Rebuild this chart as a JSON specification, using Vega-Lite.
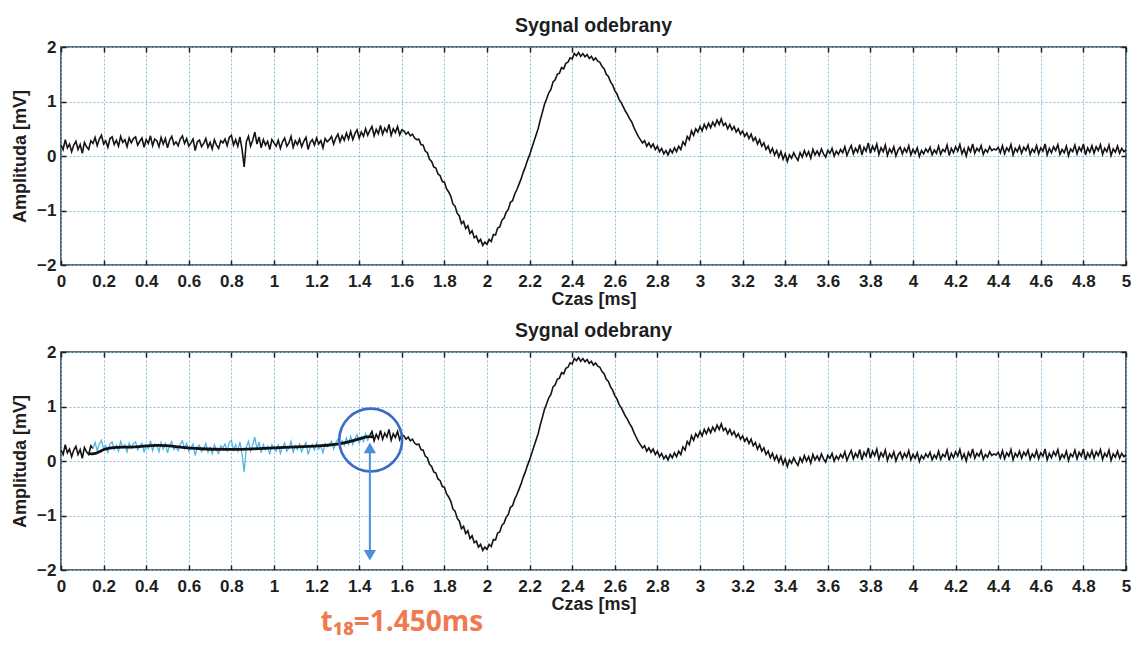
{
  "$schema": "https://vega.github.io/schema/vega-lite/v6.json",
  "background": "white",
  "padding": {"left": 10, "top": 14, "right": 4, "bottom": 4},
  "spacing": 10,
  "datasets": {
    "sig": [
      {"t":0.00,"v":0.20},{"t":0.01,"v":0.12},{"t":0.02,"v":0.30},{"t":0.03,"v":0.15},{"t":0.04,"v":0.22},{"t":0.05,"v":0.08},{"t":0.06,"v":0.20},{"t":0.07,"v":0.27},{"t":0.08,"v":0.12},{"t":0.09,"v":0.21},
      {"t":0.10,"v":0.05},{"t":0.11,"v":0.25},{"t":0.12,"v":0.17},{"t":0.13,"v":0.12},{"t":0.14,"v":0.28},{"t":0.15,"v":0.23},{"t":0.16,"v":0.34},{"t":0.17,"v":0.19},{"t":0.18,"v":0.31},{"t":0.19,"v":0.38},
      {"t":0.20,"v":0.22},{"t":0.21,"v":0.28},{"t":0.22,"v":0.16},{"t":0.23,"v":0.32},{"t":0.24,"v":0.35},{"t":0.25,"v":0.21},{"t":0.26,"v":0.29},{"t":0.27,"v":0.18},{"t":0.28,"v":0.36},{"t":0.29,"v":0.25},
      {"t":0.30,"v":0.30},{"t":0.31,"v":0.17},{"t":0.32,"v":0.33},{"t":0.33,"v":0.24},{"t":0.34,"v":0.32},{"t":0.35,"v":0.35},{"t":0.36,"v":0.20},{"t":0.37,"v":0.27},{"t":0.38,"v":0.33},{"t":0.39,"v":0.16},
      {"t":0.40,"v":0.30},{"t":0.41,"v":0.23},{"t":0.42,"v":0.37},{"t":0.43,"v":0.19},{"t":0.44,"v":0.31},{"t":0.45,"v":0.28},{"t":0.46,"v":0.17},{"t":0.47,"v":0.34},{"t":0.48,"v":0.22},{"t":0.49,"v":0.32},
      {"t":0.50,"v":0.15},{"t":0.51,"v":0.29},{"t":0.52,"v":0.36},{"t":0.53,"v":0.21},{"t":0.54,"v":0.26},{"t":0.55,"v":0.19},{"t":0.56,"v":0.31},{"t":0.57,"v":0.37},{"t":0.58,"v":0.23},{"t":0.59,"v":0.32},
      {"t":0.60,"v":0.18},{"t":0.61,"v":0.24},{"t":0.62,"v":0.31},{"t":0.63,"v":0.10},{"t":0.64,"v":0.26},{"t":0.65,"v":0.29},{"t":0.66,"v":0.17},{"t":0.67,"v":0.23},{"t":0.68,"v":0.32},{"t":0.69,"v":0.16},
      {"t":0.70,"v":0.25},{"t":0.71,"v":0.13},{"t":0.72,"v":0.30},{"t":0.73,"v":0.20},{"t":0.74,"v":0.14},{"t":0.75,"v":0.28},{"t":0.76,"v":0.24},{"t":0.77,"v":0.31},{"t":0.78,"v":0.19},{"t":0.79,"v":0.34},
      {"t":0.80,"v":0.38},{"t":0.81,"v":0.20},{"t":0.82,"v":0.30},{"t":0.83,"v":0.18},{"t":0.84,"v":0.35},{"t":0.85,"v":0.12},{"t":0.86,"v":-0.20},{"t":0.87,"v":0.26},{"t":0.88,"v":0.36},{"t":0.89,"v":0.18},
      {"t":0.90,"v":0.29},{"t":0.91,"v":0.44},{"t":0.92,"v":0.22},{"t":0.93,"v":0.35},{"t":0.94,"v":0.15},{"t":0.95,"v":0.30},{"t":0.96,"v":0.20},{"t":0.97,"v":0.27},{"t":0.98,"v":0.12},{"t":0.99,"v":0.30},
      {"t":1.00,"v":0.24},{"t":1.01,"v":0.18},{"t":1.02,"v":0.29},{"t":1.03,"v":0.14},{"t":1.04,"v":0.26},{"t":1.05,"v":0.33},{"t":1.06,"v":0.18},{"t":1.07,"v":0.24},{"t":1.08,"v":0.36},{"t":1.09,"v":0.16},
      {"t":1.10,"v":0.28},{"t":1.11,"v":0.21},{"t":1.12,"v":0.31},{"t":1.13,"v":0.17},{"t":1.14,"v":0.27},{"t":1.15,"v":0.34},{"t":1.16,"v":0.12},{"t":1.17,"v":0.25},{"t":1.18,"v":0.30},{"t":1.19,"v":0.20},
      {"t":1.20,"v":0.33},{"t":1.21,"v":0.22},{"t":1.22,"v":0.28},{"t":1.23,"v":0.15},{"t":1.24,"v":0.32},{"t":1.25,"v":0.26},{"t":1.26,"v":0.30},{"t":1.27,"v":0.36},{"t":1.28,"v":0.22},{"t":1.29,"v":0.33},
      {"t":1.30,"v":0.40},{"t":1.31,"v":0.26},{"t":1.32,"v":0.37},{"t":1.33,"v":0.29},{"t":1.34,"v":0.42},{"t":1.35,"v":0.31},{"t":1.36,"v":0.45},{"t":1.37,"v":0.30},{"t":1.38,"v":0.41},{"t":1.39,"v":0.48},
      {"t":1.40,"v":0.33},{"t":1.41,"v":0.44},{"t":1.42,"v":0.36},{"t":1.43,"v":0.50},{"t":1.44,"v":0.38},{"t":1.45,"v":0.47},{"t":1.46,"v":0.54},{"t":1.47,"v":0.37},{"t":1.48,"v":0.49},{"t":1.49,"v":0.41},
      {"t":1.50,"v":0.56},{"t":1.51,"v":0.40},{"t":1.52,"v":0.51},{"t":1.53,"v":0.44},{"t":1.54,"v":0.58},{"t":1.55,"v":0.38},{"t":1.56,"v":0.50},{"t":1.57,"v":0.43},{"t":1.58,"v":0.54},{"t":1.59,"v":0.39},
      {"t":1.60,"v":0.48},{"t":1.61,"v":0.46},{"t":1.62,"v":0.40},{"t":1.63,"v":0.44},{"t":1.64,"v":0.37},{"t":1.65,"v":0.40},{"t":1.66,"v":0.33},{"t":1.67,"v":0.30},{"t":1.68,"v":0.31},{"t":1.69,"v":0.21},
      {"t":1.70,"v":0.20},{"t":1.71,"v":0.09},{"t":1.72,"v":0.06},{"t":1.73,"v":-0.06},{"t":1.74,"v":-0.10},{"t":1.75,"v":-0.20},{"t":1.76,"v":-0.22},{"t":1.77,"v":-0.33},{"t":1.78,"v":-0.36},{"t":1.79,"v":-0.47},
      {"t":1.80,"v":-0.48},{"t":1.81,"v":-0.60},{"t":1.82,"v":-0.66},{"t":1.83,"v":-0.74},{"t":1.84,"v":-0.88},{"t":1.85,"v":-0.92},{"t":1.86,"v":-1.05},{"t":1.87,"v":-1.10},{"t":1.88,"v":-1.24},{"t":1.89,"v":-1.20},
      {"t":1.90,"v":-1.33},{"t":1.91,"v":-1.28},{"t":1.92,"v":-1.42},{"t":1.93,"v":-1.37},{"t":1.94,"v":-1.50},{"t":1.95,"v":-1.47},{"t":1.96,"v":-1.58},{"t":1.97,"v":-1.53},{"t":1.98,"v":-1.64},{"t":1.99,"v":-1.58},
      {"t":2.00,"v":-1.62},{"t":2.01,"v":-1.53},{"t":2.02,"v":-1.57},{"t":2.03,"v":-1.44},{"t":2.04,"v":-1.45},{"t":2.05,"v":-1.32},{"t":2.06,"v":-1.30},{"t":2.07,"v":-1.18},{"t":2.08,"v":-1.14},{"t":2.09,"v":-1.03},
      {"t":2.10,"v":-0.98},{"t":2.11,"v":-0.85},{"t":2.12,"v":-0.82},{"t":2.13,"v":-0.70},{"t":2.14,"v":-0.62},{"t":2.15,"v":-0.52},{"t":2.16,"v":-0.42},{"t":2.17,"v":-0.30},{"t":2.18,"v":-0.20},{"t":2.19,"v":-0.08},
      {"t":2.20,"v":0.02},{"t":2.21,"v":0.14},{"t":2.22,"v":0.26},{"t":2.23,"v":0.38},{"t":2.24,"v":0.50},{"t":2.25,"v":0.66},{"t":2.26,"v":0.80},{"t":2.27,"v":0.95},{"t":2.28,"v":1.05},{"t":2.29,"v":1.16},
      {"t":2.30,"v":1.22},{"t":2.31,"v":1.36},{"t":2.32,"v":1.40},{"t":2.33,"v":1.50},{"t":2.34,"v":1.52},{"t":2.35,"v":1.62},{"t":2.36,"v":1.60},{"t":2.37,"v":1.70},{"t":2.38,"v":1.72},{"t":2.39,"v":1.80},
      {"t":2.40,"v":1.78},{"t":2.41,"v":1.88},{"t":2.42,"v":1.84},{"t":2.43,"v":1.90},{"t":2.44,"v":1.83},{"t":2.45,"v":1.88},{"t":2.46,"v":1.82},{"t":2.47,"v":1.86},{"t":2.48,"v":1.79},{"t":2.49,"v":1.83},
      {"t":2.50,"v":1.76},{"t":2.51,"v":1.80},{"t":2.52,"v":1.74},{"t":2.53,"v":1.72},{"t":2.54,"v":1.64},{"t":2.55,"v":1.60},{"t":2.56,"v":1.50},{"t":2.57,"v":1.46},{"t":2.58,"v":1.36},{"t":2.59,"v":1.30},
      {"t":2.60,"v":1.20},{"t":2.61,"v":1.14},{"t":2.62,"v":1.04},{"t":2.63,"v":0.98},{"t":2.64,"v":0.90},{"t":2.65,"v":0.82},{"t":2.66,"v":0.76},{"t":2.67,"v":0.68},{"t":2.68,"v":0.62},{"t":2.69,"v":0.52},
      {"t":2.70,"v":0.44},{"t":2.71,"v":0.36},{"t":2.72,"v":0.30},{"t":2.73,"v":0.24},{"t":2.74,"v":0.28},{"t":2.75,"v":0.18},{"t":2.76,"v":0.24},{"t":2.77,"v":0.16},{"t":2.78,"v":0.22},{"t":2.79,"v":0.12},
      {"t":2.80,"v":0.18},{"t":2.81,"v":0.08},{"t":2.82,"v":0.14},{"t":2.83,"v":0.04},{"t":2.84,"v":0.10},{"t":2.85,"v":0.02},{"t":2.86,"v":0.12},{"t":2.87,"v":0.06},{"t":2.88,"v":0.15},{"t":2.89,"v":0.08},
      {"t":2.90,"v":0.18},{"t":2.91,"v":0.12},{"t":2.92,"v":0.26},{"t":2.93,"v":0.20},{"t":2.94,"v":0.36},{"t":2.95,"v":0.30},{"t":2.96,"v":0.46},{"t":2.97,"v":0.38},{"t":2.98,"v":0.50},{"t":2.99,"v":0.44},
      {"t":3.00,"v":0.54},{"t":3.01,"v":0.46},{"t":3.02,"v":0.58},{"t":3.03,"v":0.50},{"t":3.04,"v":0.60},{"t":3.05,"v":0.52},{"t":3.06,"v":0.62},{"t":3.07,"v":0.55},{"t":3.08,"v":0.66},{"t":3.09,"v":0.58},
      {"t":3.10,"v":0.68},{"t":3.11,"v":0.56},{"t":3.12,"v":0.60},{"t":3.13,"v":0.50},{"t":3.14,"v":0.58},{"t":3.15,"v":0.48},{"t":3.16,"v":0.54},{"t":3.17,"v":0.44},{"t":3.18,"v":0.50},{"t":3.19,"v":0.40},
      {"t":3.20,"v":0.46},{"t":3.21,"v":0.36},{"t":3.22,"v":0.42},{"t":3.23,"v":0.32},{"t":3.24,"v":0.40},{"t":3.25,"v":0.28},{"t":3.26,"v":0.34},{"t":3.27,"v":0.22},{"t":3.28,"v":0.30},{"t":3.29,"v":0.18},
      {"t":3.30,"v":0.24},{"t":3.31,"v":0.12},{"t":3.32,"v":0.18},{"t":3.33,"v":0.06},{"t":3.34,"v":0.14},{"t":3.35,"v":0.02},{"t":3.36,"v":0.10},{"t":3.37,"v":-0.02},{"t":3.38,"v":0.08},{"t":3.39,"v":-0.06},
      {"t":3.40,"v":0.04},{"t":3.41,"v":-0.10},{"t":3.42,"v":0.02},{"t":3.43,"v":-0.04},{"t":3.44,"v":0.06},{"t":3.45,"v":-0.02},{"t":3.46,"v":-0.08},{"t":3.47,"v":0.06},{"t":3.48,"v":-0.02},{"t":3.49,"v":0.10},
      {"t":3.50,"v":0.00},{"t":3.51,"v":0.08},{"t":3.52,"v":-0.04},{"t":3.53,"v":0.12},{"t":3.54,"v":0.02},{"t":3.55,"v":0.09},{"t":3.56,"v":0.01},{"t":3.57,"v":0.13},{"t":3.58,"v":0.04},{"t":3.59,"v":-0.02},
      {"t":3.60,"v":0.10},{"t":3.61,"v":0.05},{"t":3.62,"v":0.14},{"t":3.63,"v":0.00},{"t":3.64,"v":0.09},{"t":3.65,"v":0.03},{"t":3.66,"v":0.12},{"t":3.67,"v":0.06},{"t":3.68,"v":0.17},{"t":3.69,"v":0.01},
      {"t":3.70,"v":0.11},{"t":3.71,"v":0.19},{"t":3.72,"v":0.04},{"t":3.73,"v":0.14},{"t":3.74,"v":0.07},{"t":3.75,"v":0.21},{"t":3.76,"v":0.02},{"t":3.77,"v":0.16},{"t":3.78,"v":0.09},{"t":3.79,"v":0.24},
      {"t":3.80,"v":0.05},{"t":3.81,"v":0.18},{"t":3.82,"v":0.10},{"t":3.83,"v":0.22},{"t":3.84,"v":0.03},{"t":3.85,"v":0.15},{"t":3.86,"v":0.08},{"t":3.87,"v":0.20},{"t":3.88,"v":0.01},{"t":3.89,"v":0.13},
      {"t":3.90,"v":0.06},{"t":3.91,"v":0.17},{"t":3.92,"v":0.00},{"t":3.93,"v":0.11},{"t":3.94,"v":0.16},{"t":3.95,"v":0.04},{"t":3.96,"v":0.14},{"t":3.97,"v":0.07},{"t":3.98,"v":0.19},{"t":3.99,"v":0.02},
      {"t":4.00,"v":0.12},{"t":4.01,"v":0.05},{"t":4.02,"v":0.15},{"t":4.03,"v":-0.01},{"t":4.04,"v":0.10},{"t":4.05,"v":0.04},{"t":4.06,"v":0.13},{"t":4.07,"v":0.07},{"t":4.08,"v":0.16},{"t":4.09,"v":0.02},
      {"t":4.10,"v":0.11},{"t":4.11,"v":0.05},{"t":4.12,"v":0.18},{"t":4.13,"v":0.03},{"t":4.14,"v":0.12},{"t":4.15,"v":0.08},{"t":4.16,"v":0.20},{"t":4.17,"v":0.01},{"t":4.18,"v":0.14},{"t":4.19,"v":0.06},
      {"t":4.20,"v":0.17},{"t":4.21,"v":0.09},{"t":4.22,"v":0.21},{"t":4.23,"v":0.04},{"t":4.24,"v":0.13},{"t":4.25,"v":0.00},{"t":4.26,"v":0.16},{"t":4.27,"v":0.08},{"t":4.28,"v":0.22},{"t":4.29,"v":0.05},
      {"t":4.30,"v":0.14},{"t":4.31,"v":0.09},{"t":4.32,"v":0.19},{"t":4.33,"v":0.03},{"t":4.34,"v":0.12},{"t":4.35,"v":0.07},{"t":4.36,"v":0.17},{"t":4.37,"v":0.10},{"t":4.38,"v":0.13},{"t":4.39,"v":0.11},
      {"t":4.40,"v":0.16},{"t":4.41,"v":0.06},{"t":4.42,"v":0.19},{"t":4.43,"v":0.04},{"t":4.44,"v":0.15},{"t":4.45,"v":0.09},{"t":4.46,"v":0.21},{"t":4.47,"v":0.02},{"t":4.48,"v":0.14},{"t":4.49,"v":0.08},
      {"t":4.50,"v":0.18},{"t":4.51,"v":0.05},{"t":4.52,"v":0.16},{"t":4.53,"v":0.10},{"t":4.54,"v":0.20},{"t":4.55,"v":0.03},{"t":4.56,"v":0.13},{"t":4.57,"v":0.07},{"t":4.58,"v":0.19},{"t":4.59,"v":0.04},
      {"t":4.60,"v":0.15},{"t":4.61,"v":0.09},{"t":4.62,"v":0.22},{"t":4.63,"v":0.02},{"t":4.64,"v":0.14},{"t":4.65,"v":0.06},{"t":4.66,"v":0.17},{"t":4.67,"v":0.10},{"t":4.68,"v":0.21},{"t":4.69,"v":0.03},
      {"t":4.70,"v":0.12},{"t":4.71,"v":0.06},{"t":4.72,"v":0.18},{"t":4.73,"v":0.01},{"t":4.74,"v":0.13},{"t":4.75,"v":0.08},{"t":4.76,"v":0.20},{"t":4.77,"v":0.04},{"t":4.78,"v":0.16},{"t":4.79,"v":0.09},
      {"t":4.80,"v":0.22},{"t":4.81,"v":0.02},{"t":4.82,"v":0.15},{"t":4.83,"v":0.07},{"t":4.84,"v":0.19},{"t":4.85,"v":0.05},{"t":4.86,"v":0.17},{"t":4.87,"v":0.10},{"t":4.88,"v":0.21},{"t":4.89,"v":0.03},
      {"t":4.90,"v":0.14},{"t":4.91,"v":0.08},{"t":4.92,"v":0.20},{"t":4.93,"v":0.01},{"t":4.94,"v":0.13},{"t":4.95,"v":0.07},{"t":4.96,"v":0.18},{"t":4.97,"v":0.05},{"t":4.98,"v":0.14},{"t":4.99,"v":0.08},
      {"t":5.00,"v":0.11}
    ],
    "smooth": [
      {"t":0.13,"v":0.14},{"t":0.16,"v":0.12},{"t":0.2,"v":0.22},{"t":0.25,"v":0.26},{"t":0.35,"v":0.25},{"t":0.45,"v":0.30},{"t":0.55,"v":0.26},{"t":0.65,"v":0.22},{"t":0.78,"v":0.21},{"t":0.9,"v":0.22},{"t":1.05,"v":0.25},{"t":1.2,"v":0.27},{"t":1.3,"v":0.30},{"t":1.38,"v":0.38},{"t":1.44,"v":0.46},{"t":1.47,"v":0.44}
    ]
  },
  "config": {
    "font": "Liberation Sans",
    "view": {"stroke": "#2b3f4a", "strokeWidth": 1.6},
    "axis": {
      "labelFont": "Liberation Sans", "labelFontWeight": "bold", "labelFontSize": 17, "labelColor": "#1e1e1e",
      "titleFont": "Liberation Sans", "titleFontWeight": "bold", "titleColor": "#1e1e1e",
      "gridColor": "#7fbfe0", "gridDash": [2, 2], "gridOpacity": 1, "gridWidth": 1,
      "domain": false, "tickColor": "#1e1e1e", "tickSize": -5, "tickWidth": 1.5
    },
    "title": {"font": "Liberation Sans", "fontSize": 19.5, "fontWeight": "bold", "color": "#1e1e1e", "offset": 2}
  },
  "vconcat": [
    {
      "width": 1065, "height": 218,
      "title": "Sygnal odebrany",
      "resolve": {"axis": {"x": "independent", "y": "independent"}},
      "layer": [
        {
          "data": {"name": "sig"},
          "mark": {"type": "line", "color": "#141414", "strokeWidth": 1.6},
          "encoding": {
            "x": {"field": "t", "type": "quantitative", "scale": {"domain": [0, 5], "nice": false},
                  "axis": {"orient": "bottom", "title": "Czas [ms]", "titleFontSize": 18, "values": [0,0.2,0.4,0.6,0.8,1,1.2,1.4,1.6,1.8,2,2.2,2.4,2.6,2.8,3,3.2,3.4,3.6,3.8,4,4.2,4.4,4.6,4.8,5], "format": "~g", "labelPadding": 13, "titlePadding": 1, "labelFlush": false}},
            "y": {"field": "v", "type": "quantitative", "scale": {"domain": [-2, 2], "nice": false},
                  "axis": {"orient": "left", "title": "Amplituda [mV]", "titleFontSize": 18, "values": [-2,-1,0,1,2], "labelPadding": 10, "titlePadding": 7}}
          }
        },
        {
          "data": {"name": "sig"},
          "mark": {"type": "line", "opacity": 0},
          "encoding": {
            "x": {"field": "t", "type": "quantitative", "axis": {"orient": "top", "labels": false, "title": null, "grid": false, "values": [0,0.2,0.4,0.6,0.8,1,1.2,1.4,1.6,1.8,2,2.2,2.4,2.6,2.8,3,3.2,3.4,3.6,3.8,4,4.2,4.4,4.6,4.8,5]}},
            "y": {"field": "v", "type": "quantitative", "axis": {"orient": "right", "labels": false, "title": null, "grid": false, "values": [-2,-1,0,1,2]}}
          }
        }
      ]
    },
    {
      "width": 1065, "height": 218,
      "title": "Sygnal odebrany",
      "resolve": {"axis": {"x": "independent", "y": "independent"}},
      "layer": [
        {
          "data": {"name": "sig"},
          "transform": [{"filter": "datum.t <= 0.15"}],
          "mark": {"type": "line", "color": "#141414", "strokeWidth": 1.6},
          "encoding": {
            "x": {"field": "t", "type": "quantitative", "scale": {"domain": [0, 5], "nice": false},
                  "axis": {"orient": "bottom", "title": "Czas [ms]", "titleFontSize": 18, "values": [0,0.2,0.4,0.6,0.8,1,1.2,1.4,1.6,1.8,2,2.2,2.4,2.6,2.8,3,3.2,3.4,3.6,3.8,4,4.2,4.4,4.6,4.8,5], "format": "~g", "labelPadding": 13, "titlePadding": 1, "labelFlush": false}},
            "y": {"field": "v", "type": "quantitative", "scale": {"domain": [-2, 2], "nice": false},
                  "axis": {"orient": "left", "title": "Amplituda [mV]", "titleFontSize": 18, "values": [-2,-1,0,1,2], "labelPadding": 10, "titlePadding": 7}}
          }
        },
        {
          "data": {"name": "sig"},
          "mark": {"type": "line", "opacity": 0},
          "encoding": {
            "x": {"field": "t", "type": "quantitative", "axis": {"orient": "top", "labels": false, "title": null, "grid": false, "values": [0,0.2,0.4,0.6,0.8,1,1.2,1.4,1.6,1.8,2,2.2,2.4,2.6,2.8,3,3.2,3.4,3.6,3.8,4,4.2,4.4,4.6,4.8,5]}},
            "y": {"field": "v", "type": "quantitative", "axis": {"orient": "right", "labels": false, "title": null, "grid": false, "values": [-2,-1,0,1,2]}}
          }
        },
        {
          "data": {"name": "sig"},
          "transform": [{"filter": "datum.t >= 0.15 && datum.t <= 1.45"}],
          "mark": {"type": "line", "color": "#52b4e6", "strokeWidth": 1.3},
          "encoding": {
            "x": {"field": "t", "type": "quantitative", "axis": null},
            "y": {"field": "v", "type": "quantitative", "axis": null}
          }
        },
        {
          "data": {"name": "sig"},
          "transform": [{"filter": "datum.t >= 1.45"}],
          "mark": {"type": "line", "color": "#141414", "strokeWidth": 1.6},
          "encoding": {
            "x": {"field": "t", "type": "quantitative", "axis": null},
            "y": {"field": "v", "type": "quantitative", "axis": null}
          }
        },
        {
          "data": {"name": "smooth"},
          "mark": {"type": "line", "color": "#111111", "strokeWidth": 2.8, "interpolate": "basis"},
          "encoding": {
            "x": {"field": "t", "type": "quantitative", "axis": null},
            "y": {"field": "v", "type": "quantitative", "axis": null}
          }
        },
        {
          "data": {"values": [{"t": 1.454, "v": 0.385}]},
          "mark": {"type": "point", "shape": "circle", "filled": false, "size": 3950, "stroke": "#3a6cc4", "strokeWidth": 2.6, "opacity": 1},
          "encoding": {
            "x": {"field": "t", "type": "quantitative", "axis": null},
            "y": {"field": "v", "type": "quantitative", "axis": null}
          }
        },
        {
          "data": {"values": [{"t": 1.45, "v": 0.15, "v2": -1.65}]},
          "mark": {"type": "rule", "color": "#4a8fd8", "strokeWidth": 2},
          "encoding": {
            "x": {"field": "t", "type": "quantitative", "axis": null},
            "y": {"field": "v", "type": "quantitative", "axis": null},
            "y2": {"field": "v2"}
          }
        },
        {
          "data": {"values": [{"t": 1.45, "v": 0.24, "end": "top"}, {"t": 1.45, "v": -1.73, "end": "bottom"}]},
          "mark": {"type": "point", "filled": true, "size": 150, "color": "#4a8fd8", "opacity": 1},
          "encoding": {
            "x": {"field": "t", "type": "quantitative", "axis": null},
            "y": {"field": "v", "type": "quantitative", "axis": null},
            "shape": {"field": "end", "type": "nominal", "scale": {"domain": ["top", "bottom"], "range": ["triangle-up", "triangle-down"]}, "legend": null}
          }
        },
        {
          "data": {"values": [{"t": 1.6, "v": -2.97, "label": "t₁₈=1.450ms"}]},
          "mark": {"type": "text", "font": "Open Sans", "fontWeight": "bold", "fontSize": 28, "color": "#f07a50", "align": "center", "baseline": "middle"},
          "encoding": {
            "x": {"field": "t", "type": "quantitative", "axis": null},
            "y": {"field": "v", "type": "quantitative", "axis": null},
            "text": {"field": "label"}
          }
        }
      ]
    }
  ]
}
